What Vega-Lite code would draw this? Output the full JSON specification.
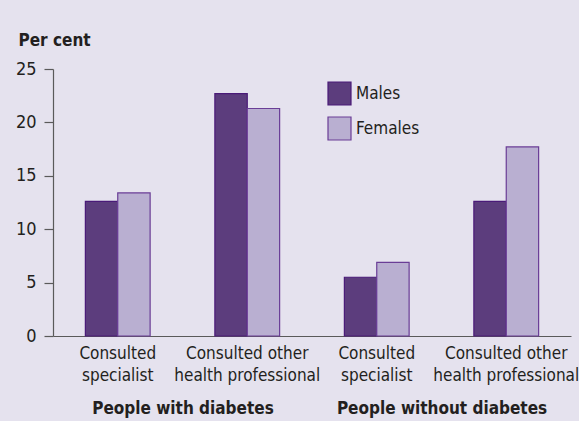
{
  "$schema": "https://vega.github.io/schema/vega-lite/v6.json",
  "width": 518,
  "height": 267,
  "autosize": {"type": "none"},
  "padding": {"left": 53, "top": 69, "right": 8, "bottom": 85},
  "background": "#e5e2ee",
  "config": {
    "font": "DejaVu Sans Condensed, sans-serif",
    "view": {"stroke": null},
    "axis": {"labelFont": "DejaVu Sans Condensed, sans-serif", "titleFont": "DejaVu Sans Condensed, sans-serif"},
    "legend": {"labelFont": "DejaVu Sans Condensed, sans-serif"}
  },
  "layer": [
    {
      "data": {
        "values": [
          {"category": "with|Consulted/specialist", "sex": "Males", "value": 12.6},
          {"category": "with|Consulted/specialist", "sex": "Females", "value": 13.4},
          {"category": "with|Consulted other/health professional", "sex": "Males", "value": 22.7},
          {"category": "with|Consulted other/health professional", "sex": "Females", "value": 21.3},
          {"category": "without|Consulted/specialist", "sex": "Males", "value": 5.5},
          {"category": "without|Consulted/specialist", "sex": "Females", "value": 6.9},
          {"category": "without|Consulted other/health professional", "sex": "Males", "value": 12.6},
          {"category": "without|Consulted other/health professional", "sex": "Females", "value": 17.7}
        ]
      },
      "mark": {"type": "bar", "strokeWidth": 1.2},
      "encoding": {
        "x": {
          "field": "category",
          "type": "nominal",
          "sort": null,
          "scale": {"paddingInner": 0.5, "paddingOuter": 0.25},
          "axis": {
            "title": null,
            "labelAngle": 0,
            "labelExpr": "split(substring(datum.label, indexof(datum.label, '|') + 1), '/')",
            "labelFontSize": 17,
            "labelColor": "#231f20",
            "labelPadding": 9,
            "labelLineHeight": 22,
            "labelLimit": 0,
            "ticks": false,
            "domainColor": "#5a5a5a",
            "domainWidth": 1.2
          }
        },
        "xOffset": {"field": "sex", "type": "nominal", "sort": ["Males", "Females"], "scale": {"paddingInner": 0, "paddingOuter": 0}},
        "y": {
          "field": "value",
          "type": "quantitative",
          "scale": {"domain": [0, 25]},
          "axis": {
            "title": "Per cent",
            "titleAngle": 0,
            "titleAlign": "left",
            "titleBaseline": "alphabetic",
            "titleX": -35,
            "titleY": -24,
            "titleFontSize": 17,
            "titleFontWeight": "bold",
            "titleColor": "#231f20",
            "values": [0, 5, 10, 15, 20, 25],
            "grid": false,
            "labelFontSize": 18,
            "labelColor": "#231f20",
            "labelPadding": 8,
            "tickSize": 9,
            "tickColor": "#5a5a5a",
            "tickWidth": 1.2,
            "domainColor": "#5a5a5a",
            "domainWidth": 1.2
          }
        },
        "fill": {
          "field": "sex",
          "type": "nominal",
          "sort": ["Males", "Females"],
          "scale": {"domain": ["Males", "Females"], "range": ["#5c3d7d", "#b9afd1"]},
          "legend": {
            "title": null,
            "orient": "none",
            "legendX": 274,
            "legendY": 12,
            "symbolType": "square",
            "symbolSize": 529,
            "symbolStrokeWidth": 1.2,
            "symbolStrokeColor": "#5a2e86",
            "labelFontSize": 17,
            "labelColor": "#231f20",
            "labelOffset": 4,
            "rowPadding": 6
          }
        },
        "stroke": {
          "field": "sex",
          "type": "nominal",
          "scale": {"domain": ["Males", "Females"], "range": ["#4a1a78", "#6a3d96"]},
          "legend": null
        }
      }
    },
    {
      "data": {
        "values": [
          {"group": "People with diabetes"},
          {"group": "People without diabetes"}
        ]
      },
      "mark": {"type": "text", "text": ""},
      "encoding": {
        "x": {
          "field": "group",
          "type": "nominal",
          "sort": null,
          "scale": {"paddingInner": 0, "paddingOuter": 0},
          "axis": {
            "orient": "bottom",
            "title": null,
            "labelAngle": 0,
            "labelFontSize": 17,
            "labelFontWeight": "bold",
            "labelColor": "#231f20",
            "labelLimit": 0,
            "labelPadding": 0,
            "offset": 64,
            "domain": false,
            "ticks": false
          }
        }
      }
    }
  ],
  "resolve": {"scale": {"x": "independent"}, "axis": {"x": "independent"}}
}
